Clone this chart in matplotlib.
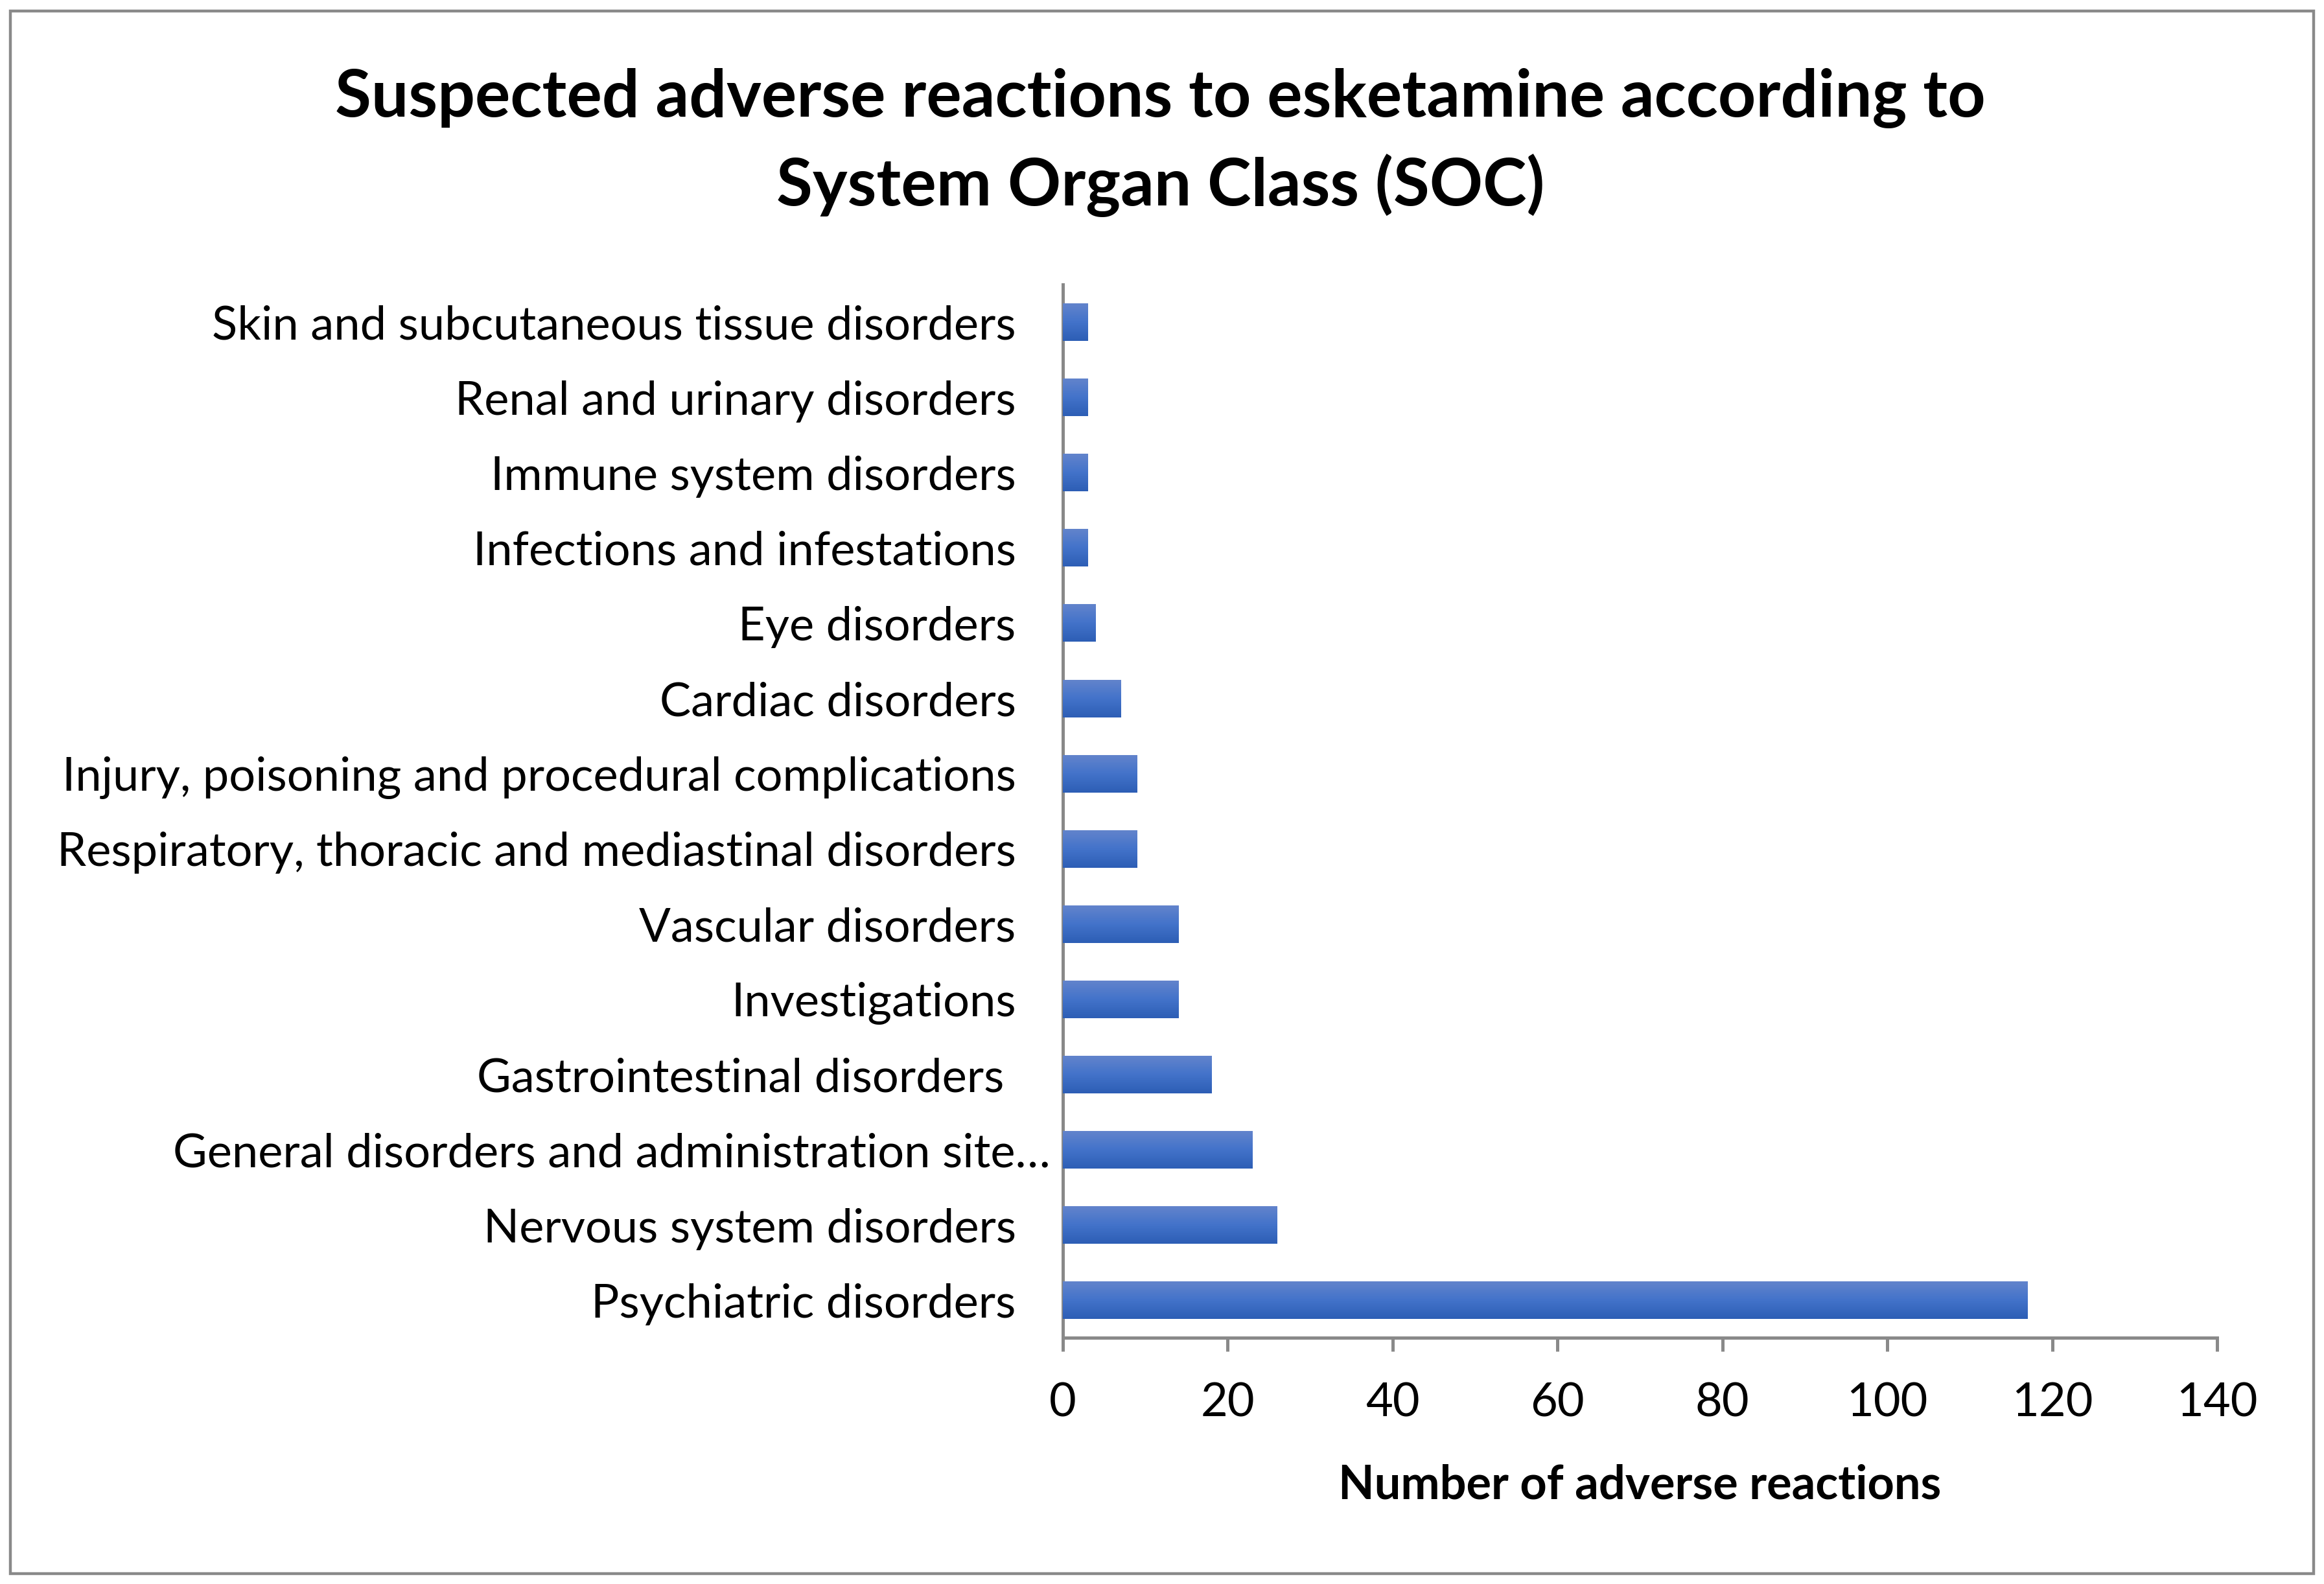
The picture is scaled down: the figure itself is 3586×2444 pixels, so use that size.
import numpy as np
import matplotlib
matplotlib.use("Agg")
import matplotlib.pyplot as plt
from matplotlib.colors import LinearSegmentedColormap
from matplotlib.patches import Rectangle
from matplotlib.transforms import ScaledTranslation

# data, bottom to top as drawn
categories = [
    "Psychiatric disorders",
    "Nervous system disorders",
    "General disorders and administration site\u2026",
    "Gastrointestinal disorders ",
    "Investigations",
    "Vascular disorders",
    "Respiratory, thoracic and mediastinal disorders",
    "Injury, poisoning and procedural complications",
    "Cardiac disorders",
    "Eye disorders",
    "Infections and infestations",
    "Immune system disorders",
    "Renal and urinary disorders",
    "Skin and subcutaneous tissue disorders",
]
counts = [117, 26, 23, 18, 14, 14, 9, 9, 7, 4, 3, 3, 3, 3]
xticks = [0, 20, 40, 60, 80, 100, 120, 140]

title = "Suspected adverse reactions to esketamine according to\nSystem Organ Class (SOC)"
xlabel = "Number of adverse reactions"

plt.rcParams['font.family'] = ['Lato', 'DejaVu Sans']
grey = "#898989"

fig = plt.figure(figsize=(17.93, 12.22), dpi=200)
ax = fig.add_axes([0.4573, 0.1553, 0.954 - 0.4573, 0.8204 - 0.1553])

y = np.arange(len(categories))
bars = ax.barh(y, counts, height=0.5, color="#4472C4", zorder=2)

# vertical gradient on each bar, like the Excel fill
cmap = LinearSegmentedColormap.from_list("bar", ["#2D5EB5", "#4373CA", "#6384CC"])
grad = np.linspace(0, 1, 64).reshape(-1, 1)
for b in bars:
    x0, y0, w, h = b.get_x(), b.get_y(), b.get_width(), b.get_height()
    im = ax.imshow(grad, cmap=cmap, aspect="auto", origin="lower",
                   extent=(x0, x0 + w, y0, y0 + h), zorder=3, interpolation="bilinear")
    im.set_clip_path(b)

ax.set_xlim(0, 140)
ax.set_ylim(-0.5, len(categories) - 0.5)
ax.set_xticks(xticks)
ax.set_xticklabels([str(t) for t in xticks], fontsize=26)
ax.set_yticks(y)
ax.set_yticklabels(categories, fontsize=26)

for s in ["top", "right"]:
    ax.spines[s].set_visible(False)
for s in ["left", "bottom"]:
    ax.spines[s].set_color(grey)
    ax.spines[s].set_linewidth(1.8)

ax.tick_params(axis="x", direction="out", length=7.5, width=1.8, color=grey, pad=17)
ax.tick_params(axis="y", length=0, pad=26)

# Excel shifts the truncated label toward the axis
lab = ax.get_yticklabels()[2]
lab.set_transform(lab.get_transform() + ScaledTranslation(0.263, 0, fig.dpi_scale_trans))

ax.set_xlabel(xlabel, fontsize=26, fontweight="bold", labelpad=22)

fig.text(0.4994, 0.910, title, ha="center", va="center", fontsize=36.7,
         fontweight="bold", linespacing=1.5)

# outer chart border
fig.patches.append(Rectangle((0.0045, 0.0065), 0.991, 0.9865, transform=fig.transFigure,
                             fill=False, edgecolor=grey, linewidth=1.6))

fig.savefig("out.png", dpi=200)
